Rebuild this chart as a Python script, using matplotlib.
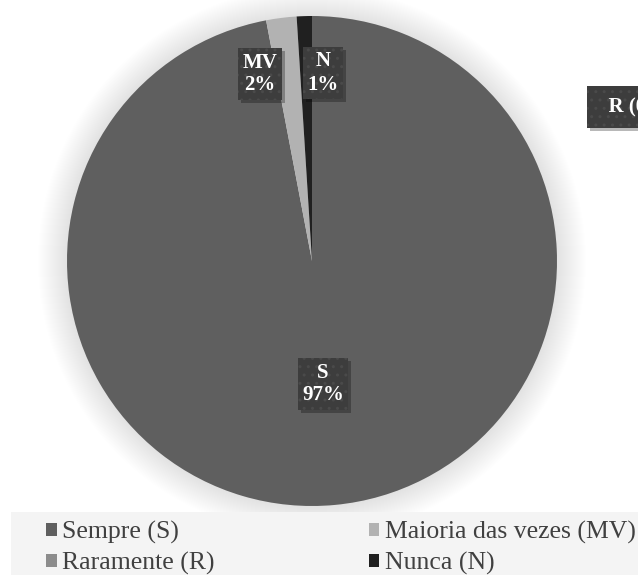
import matplotlib
matplotlib.use("Agg")
import matplotlib.pyplot as plt
from matplotlib.patches import Circle, Rectangle

plt.rcParams["font.family"] = ["Liberation Serif", "DejaVu Serif"]

# frequency of answers, percent
categories = ["Sempre (S)", "Maioria das vezes (MV)", "Raramente (R)", "Nunca (N)"]
short = ["S", "MV", "R", "N"]
values = [97, 2, 0, 1]
colors = ["#5f5f5f", "#b2b2b2", "#8c8c8c", "#202020"]

# where each data label sits (pixel coords, y from top)
label_xy = [(323, 384), (260, 74), (598, 107), (323, 73)]

W, H = 638, 575
fig = plt.figure(figsize=(W / 100, H / 100), dpi=100)
ax = fig.add_axes([0, 0, 1, 1])

cx, cy, r = 312, H - 261, 245

# soft glow under the pie
for k in range(1, 30):
    ax.add_patch(Circle((cx, cy), r + k, color="black", alpha=0.0045, lw=0, zorder=0))

wedges, _ = ax.pie(values, colors=colors, startangle=90, counterclock=False,
                   center=(cx, cy), radius=r, wedgeprops=dict(linewidth=0))
for w in wedges:
    w.set_zorder(2)

ax.set_xlim(0, W)
ax.set_ylim(0, H)
ax.set_aspect("equal")
ax.axis("off")

# data labels
labels = []
for name, v, (lx, ly) in zip(short, values, label_xy):
    if name == "R":
        txt = "  %s (%d%%)" % (name, v)
        ha, pad = "left", 0.55
    else:
        txt = "%s\n%d%%" % (name, v)
        ha, pad = "center", 0.2
    t = ax.text(lx, H - ly, txt, color="white", ha=ha, va="center",
                linespacing=1.2, fontsize=15, fontweight="bold", zorder=4,
                bbox=dict(boxstyle="square,pad=%s" % pad, fc="#3d3d3d", ec="#4a4a4a",
                          lw=0, hatch=".."))
    labels.append(t)

# drop shadows behind the label boxes
fig.canvas.draw()
for t in labels:
    bb = t.get_bbox_patch().get_window_extent()
    ax.add_patch(Rectangle((bb.x0 + 3, bb.y0 - 3), bb.width, bb.height,
                           transform=None, fc="black", alpha=0.28, lw=0, zorder=3))

# legend strip
ax.add_patch(Rectangle((11, 0), W - 11, H - 512, color="#f4f4f4", lw=0, zorder=1))
order = [0, 2, 1, 3]
leg = ax.legend([wedges[i] for i in order], [categories[i] for i in order],
                ncol=2, loc="upper left", bbox_to_anchor=(46 / W, 1 - 521 / H),
                frameon=False, fontsize=18.5,
                labelcolor="#404040", handlelength=0.42, handleheight=0.42,
                handletextpad=0.2, columnspacing=6.0, labelspacing=0.3,
                borderpad=0, borderaxespad=0)
leg.set_zorder(5)

fig.savefig("out.png", dpi=100)
